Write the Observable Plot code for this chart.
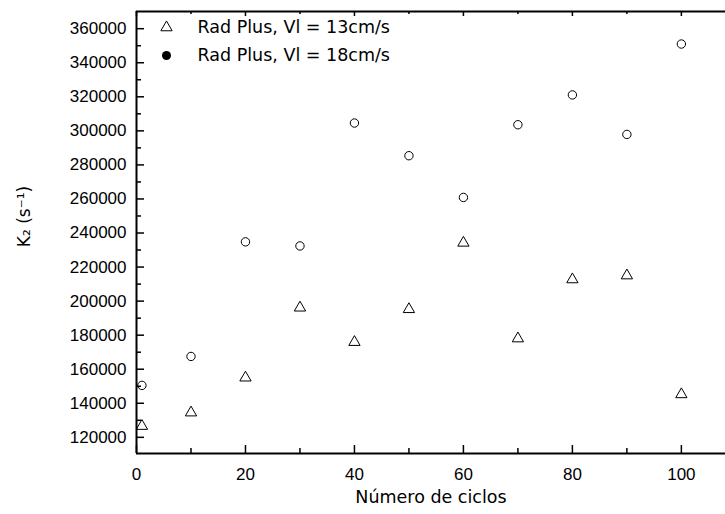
<!DOCTYPE html>
<html><head><meta charset="utf-8">
<script src="https://cdn.jsdelivr.net/npm/d3@7"></script>
<script src="https://cdn.jsdelivr.net/npm/@observablehq/plot@0.6"></script>
<style>body{margin:0;background:#fff}</style>
</head><body><div id="chart"></div>
<script>
const cycles = [1, 10, 20, 30, 40, 50, 60, 70, 80, 90, 100];
const k2Vl13 = [126600, 134500, 155000, 196100, 175900, 195200, 234200, 178000, 212700, 215000, 145200];
const k2Vl18 = [150500, 167500, 234800, 232400, 304600, 285400, 260900, 303600, 321100, 297900, 351000];
const seriesNames = ["Rad Plus, Vl = 13cm/s", "Rad Plus, Vl = 18cm/s"];
const xMajor = [0, 20, 40, 60, 80, 100];
const xMinor = [10, 30, 50, 70, 90];
const yMajor = [120000, 140000, 160000, 180000, 200000, 220000, 240000, 260000, 280000, 300000, 320000, 340000, 360000];
const yMinor = [130000, 150000, 170000, 190000, 210000, 230000, 250000, 270000, 290000, 310000, 330000, 350000];
const xLabel = "Número de ciclos";
const yLabel = "K\u2082 (s\u207B\u00B9)";

const W = 725, H = 514, mL = 136, mR = 0, mT = 11, mB = 61;
const fw = W - mL - mR, fh = H - mT - mB;
const xDomain = [0, 108.1];
const yDomain = [110500, 370100];
const textFont = "DejaVu Sans";

const d13 = cycles.map((c, i) => ({c, k: k2Vl13[i]}));
const d18 = cycles.map((c, i) => ({c, k: k2Vl18[i]}));

const chart = Plot.plot({
  width: W, height: H,
  marginLeft: mL, marginRight: mR, marginTop: mT, marginBottom: mB,
  style: {fontFamily: "Liberation Sans", fontSize: "17px", color: "#000", background: "#fff"},
  x: {domain: xDomain},
  y: {domain: yDomain},
  marks: [
    // inward ticks
    Plot.tickY(yMajor, {y: d => d, insetRight: fw - 8, stroke: "#000", strokeWidth: 1.5}),
    Plot.tickY(yMinor, {y: d => d, insetRight: fw - 5, stroke: "#000", strokeWidth: 1.5}),
    Plot.tickX(xMajor, {x: d => d, insetTop: fh - 8, stroke: "#000", strokeWidth: 1.5}),
    Plot.tickX(xMinor, {x: d => d, insetTop: fh - 5, stroke: "#000", strokeWidth: 1.5}),
    Plot.tickX(xMajor, {x: d => d, insetBottom: fh - 5, stroke: "#000", strokeWidth: 1.5}),
    Plot.tickX(xMinor, {x: d => d, insetBottom: fh - 3, stroke: "#000", strokeWidth: 1.5}),
    // axis lines
    Plot.ruleX([xDomain[0]], {stroke: "#000", strokeWidth: 2}),
    Plot.ruleY([yDomain[0]], {stroke: "#000", strokeWidth: 2}),
    Plot.ruleY([yDomain[1]], {stroke: "#000", strokeWidth: 2}),
    // tick labels
    Plot.axisY(yMajor, {tickSize: 0, tickPadding: 10, tickFormat: d3.format("d"), label: null, fontSize: 17}),
    Plot.axisX(xMajor, {tickSize: 0, tickPadding: 14, tickFormat: d3.format("d"), label: null, fontSize: 17}),
    // data
    Plot.dot(d13, {x: "c", y: "k", symbol: "triangle", r: 4.2, stroke: "#000", strokeWidth: 1, fill: "none"}),
    Plot.dot(d18, {x: "c", y: "k", symbol: "circle", r: 4.2, stroke: "#000", strokeWidth: 1, fill: "none"}),
    // legend
    Plot.dot([seriesNames[0]], {frameAnchor: "top-left", dx: 30, dy: 16, symbol: "triangle", r: 4.2, stroke: "#000", strokeWidth: 1, fill: "none"}),
    Plot.dot([seriesNames[1]], {frameAnchor: "top-left", dx: 30, dy: 44, symbol: "circle", r: 4.5, fill: "#000"}),
    Plot.text([seriesNames[0]], {frameAnchor: "top-left", text: d => d, dx: 61, dy: 16, textAnchor: "start", lineAnchor: "middle", fontFamily: textFont, fontSize: 17.5}),
    Plot.text([seriesNames[1]], {frameAnchor: "top-left", text: d => d, dx: 61, dy: 44, textAnchor: "start", lineAnchor: "middle", fontFamily: textFont, fontSize: 17.5}),
    // axis titles
    Plot.text([xLabel], {frameAnchor: "bottom", text: d => d, dy: 44, lineAnchor: "middle", fontFamily: textFont, fontSize: 17.5}),
    Plot.text([yLabel], {frameAnchor: "left", text: d => d, dx: -112, dy: -16, rotate: -90, textAnchor: "middle", lineAnchor: "middle", fontFamily: textFont, fontSize: 17})
  ]
});
document.getElementById("chart").appendChild(chart);
</script>
</body></html>
